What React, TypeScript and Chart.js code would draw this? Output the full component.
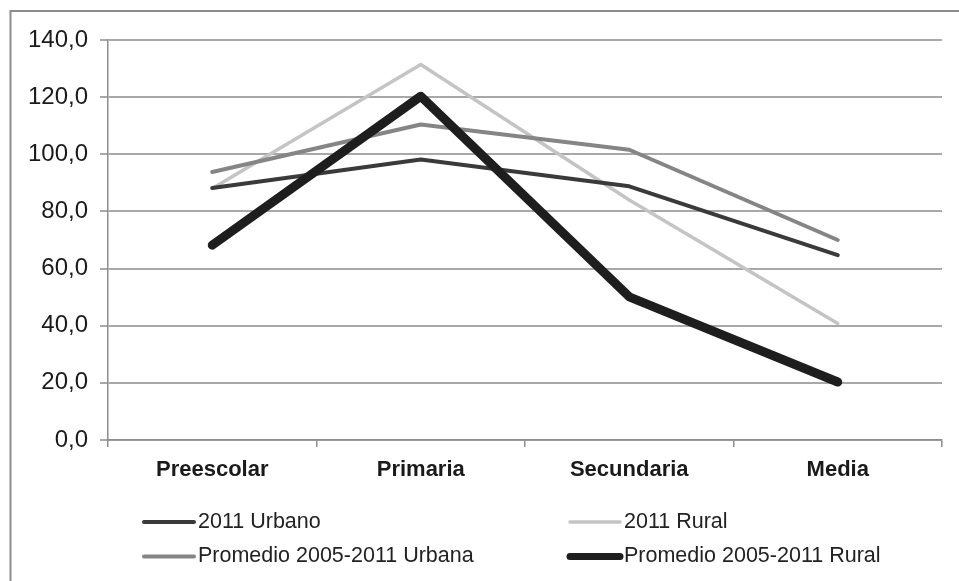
import React, { useEffect, useRef } from 'react';
import { Chart, registerables } from 'chart.js';

Chart.register(...registerables);

const categories = ['Preescolar', 'Primaria', 'Secundaria', 'Media'];
const urbano2011 = [88.2, 98.2, 88.8, 64.7];
const rural2011 = [88.0, 131.4, 84.0, 40.8];
const promedioUrbana = [93.8, 110.4, 101.6, 70.0];
const promedioRural = [68.2, 120.3, 50.1, 20.3];
const seriesNames = ['2011 Urbano', '2011 Rural', 'Promedio 2005-2011 Urbana', 'Promedio 2005-2011 Rural'];
const yTicks = [0, 20, 40, 60, 80, 100, 120, 140];

const FONT = '"Liberation Sans", Arial, sans-serif';

const framePlugin = {
  id: 'frame',
  beforeDraw(chart: any) {
    const ctx = chart.ctx;
    ctx.save();
    ctx.fillStyle = '#ffffff';
    ctx.fillRect(0, 0, chart.width, chart.height);
    ctx.strokeStyle = '#8c8c8c';
    ctx.lineWidth = 2;
    ctx.beginPath();
    ctx.moveTo(10.5, chart.height);
    ctx.lineTo(10.5, 11);
    ctx.lineTo(chart.width, 11);
    ctx.stroke();
    ctx.restore();
  },
};

const legendPlugin = {
  id: 'customLegend',
  afterDraw(chart: any) {
    const ctx = chart.ctx;
    const colX = [142, 568];
    const rowY = [522, 556.5];
    ctx.save();
    chart.data.datasets.forEach((ds: any, i: number) => {
      const x = colX[i % 2];
      const y = rowY[Math.floor(i / 2)];
      ctx.strokeStyle = ds.borderColor;
      ctx.lineWidth = Math.min(ds.borderWidth, 7);
      ctx.lineCap = 'round';
      ctx.beginPath();
      ctx.moveTo(x + 2, y);
      ctx.lineTo(x + 52, y);
      ctx.stroke();
      ctx.fillStyle = '#222222';
      ctx.font = `21.5px ${FONT}`;
      ctx.textBaseline = 'middle';
      ctx.textAlign = 'left';
      ctx.fillText(ds.label, x + 56, y);
    });
    ctx.restore();
  },
};

export default function App() {
  const ref = useRef<HTMLCanvasElement>(null);
  useEffect(() => {
    const chart = new Chart(ref.current!, {
      type: 'line',
      data: {
        labels: categories,
        datasets: [
          { label: seriesNames[0], data: urbano2011, borderColor: '#3a3a3a', borderWidth: 4, order: 2 },
          { label: seriesNames[1], data: rural2011, borderColor: '#c4c4c4', borderWidth: 3.5, order: 3 },
          { label: seriesNames[2], data: promedioUrbana, borderColor: '#858585', borderWidth: 4, order: 1 },
          { label: seriesNames[3], data: promedioRural, borderColor: '#1e1e1e', borderWidth: 9, order: 0 },
        ].map((d) => ({
          ...d,
          pointRadius: 0,
          fill: false,
          tension: 0,
          borderCapStyle: 'round' as const,
          borderJoinStyle: 'round' as const,
        })),
      },
      options: {
        animation: false,
        responsive: false,
        layout: { padding: { left: 0, right: 17, top: 40, bottom: 0 } },
        plugins: { legend: { display: false }, tooltip: { enabled: false } },
        scales: {
          x: {
            offset: true,
            grid: {
              offset: true,
              drawOnChartArea: false,
              drawTicks: true,
              tickLength: 7,
              color: '#8c8c8c',
              lineWidth: 1.5,
            },
            border: { display: true, color: '#8c8c8c', width: 1.5 },
            ticks: {
              font: { family: FONT, size: 22, weight: 'bold' },
              color: '#1a1a1a',
              padding: 10,
            },
            afterFit: (s: any) => {
              s.height = 141;
            },
          },
          y: {
            min: 0,
            max: 140,
            afterBuildTicks: (s: any) => {
              s.ticks = yTicks.map((v) => ({ value: v }));
            },
            grid: { color: '#a8a8a8', lineWidth: 2, tickLength: 8 },
            border: { display: true, color: '#8c8c8c', width: 1.5 },
            ticks: {
              font: { family: FONT, size: 24 },
              color: '#1a1a1a',
              padding: 12,
              callback: (v: any) => Number(v).toFixed(1).replace('.', ','),
            },
            afterFit: (s: any) => {
              s.width = 108;
            },
          },
        },
      },
      plugins: [framePlugin, legendPlugin],
    });
    return () => chart.destroy();
  }, []);
  return (
    <div style={{ position: 'fixed', left: 0, top: 0, width: 959, height: 581 }}>
      <canvas ref={ref} width={959} height={581} />
    </div>
  );
}
